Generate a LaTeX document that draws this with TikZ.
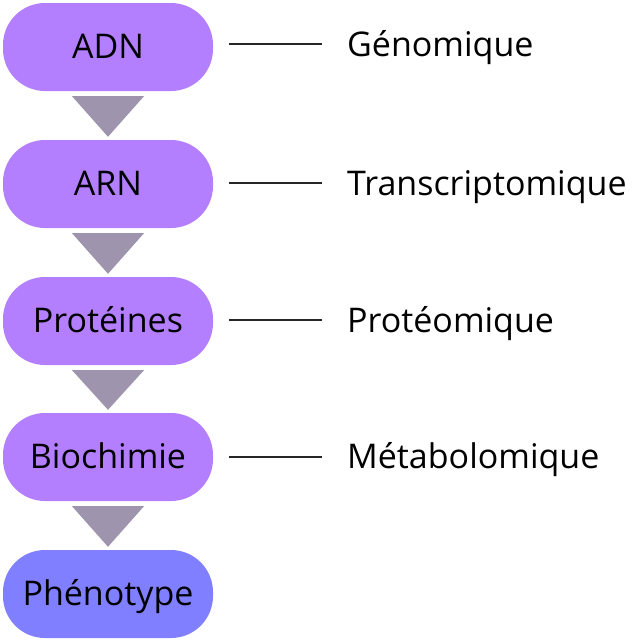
\documentclass[tikz,border=0pt]{standalone}
\usepackage{fontspec}
\setmainfont{Open Sans}
\usetikzlibrary{positioning}
\definecolor{stagepurple}{RGB}{180,127,255}
\definecolor{stageblue}{RGB}{127,127,255}
\definecolor{arrowgrey}{RGB}{158,148,174}
\tikzset{
  stage/.style={fill=stagepurple,rounded corners=42pt,minimum width=210pt,minimum height=88pt,inner sep=0pt,text height=22pt,text depth=0pt,font=\fontsize{34}{40}\selectfont},
  omic/.style={anchor=base west,inner sep=0pt,font=\fontsize{34}{40}\selectfont},
  flowtri/.style={fill=arrowgrey},
  tick/.style={line width=1.6pt,draw=black!85}
}
\begin{document}
\begin{tikzpicture}[x=1pt,y=-1pt]
\path[use as bounding box] (0,0) rectangle (640,643);
% Central dogma stages, top to bottom.
\node[stage] (adn) at (108,47) {ADN};
\node[stage] (arn) at (108,184) {ARN};
\node[stage] (prot) at (108,321) {Protéines};
\node[stage] (bio) at (108,457) {Biochimie};
\node[stage,fill=stageblue] (pheno) at (108,594) {Phénotype};
% Down-pointing triangles between stages.
\fill[flowtri] ([xshift=-36pt,yshift=-5pt]adn.south) -- ([xshift=36pt,yshift=-5pt]adn.south) -- ([yshift=3pt]arn.north) -- cycle;
\fill[flowtri] ([xshift=-36pt,yshift=-5pt]arn.south) -- ([xshift=36pt,yshift=-5pt]arn.south) -- ([yshift=3pt]prot.north) -- cycle;
\fill[flowtri] ([xshift=-36pt,yshift=-5pt]prot.south) -- ([xshift=36pt,yshift=-5pt]prot.south) -- ([yshift=3pt]bio.north) -- cycle;
\fill[flowtri] ([xshift=-36pt,yshift=-5pt]bio.south) -- ([xshift=36pt,yshift=-5pt]bio.south) -- ([yshift=3pt]pheno.north) -- cycle;
% Omics fields on the right (placed at their baselines).
\node[omic] (gen) at (347,56) {Génomique};
\node[omic] (trans) at (347,195) {Transcriptomique};
\node[omic] (proteo) at (347,332) {Protéomique};
\node[omic] (meta) at (347,468) {Métabolomique};
% Link lines.
\draw[tick] ([xshift=16pt,yshift=3pt]adn.east) -- ([xshift=-25pt,yshift=3pt]adn.east -| gen.west);
\draw[tick] ([xshift=16pt,yshift=1pt]arn.east) -- ([xshift=-25pt,yshift=1pt]arn.east -| trans.west);
\draw[tick] ([xshift=16pt,yshift=1pt]prot.east) -- ([xshift=-25pt,yshift=1pt]prot.east -| proteo.west);
\draw[tick] (bio.east) ++(16pt,0) -- ([xshift=-25pt]bio.east -| meta.west);
\end{tikzpicture}
\end{document}
